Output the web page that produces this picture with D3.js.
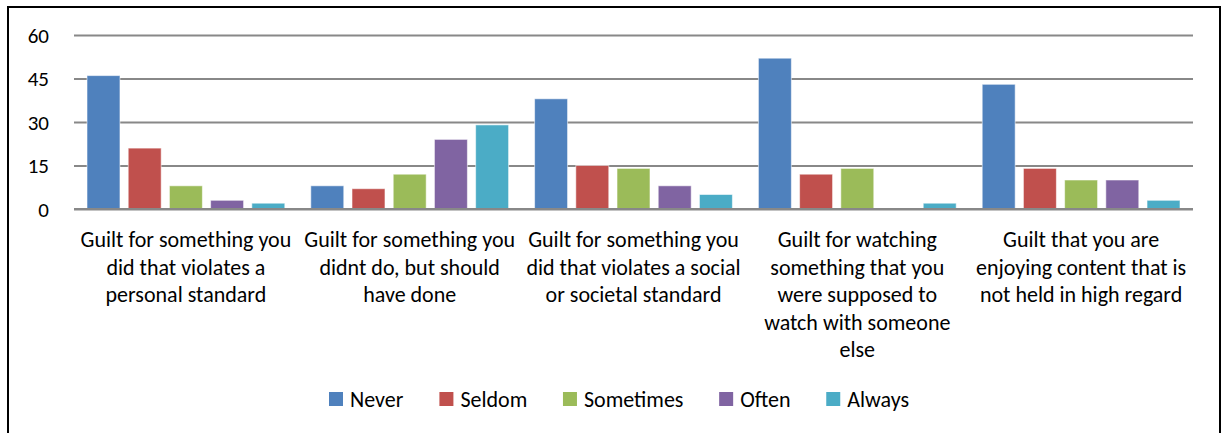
<!DOCTYPE html>
<html>
<head>
<meta charset="utf-8">
<script src="https://cdn.jsdelivr.net/npm/d3@7"></script>
<style>
  html, body { margin: 0; padding: 0; background: #fff; }
  svg { display: block; }
  text { font-family: Carlito, Calibri, Lato, "Liberation Sans", sans-serif; fill: #000; }
</style>
</head>
<body>
<svg id="chart" width="1222" height="433"></svg>
<script>
const categories = [
  "Guilt for something you\ndid that violates a\npersonal standard",
  "Guilt for something you\ndidnt do, but should\nhave done",
  "Guilt for something you\ndid that violates a social\nor societal standard",
  "Guilt for watching\nsomething that you\nwere supposed to\nwatch with someone\nelse",
  "Guilt that you are\nenjoying content that is\nnot held in high regard"
];
const seriesNames = ["Never", "Seldom", "Sometimes", "Often", "Always"];
const never     = [46, 8, 38, 52, 43];
const seldom    = [21, 7, 15, 12, 14];
const sometimes = [8, 12, 14, 14, 10];
const often     = [3, 24, 8, 0, 10];
const always    = [2, 29, 5, 2, 3];
const seriesColors = ["#4F81BD", "#C0504D", "#9BBB59", "#8064A2", "#4BACC6"];
const yTicks = [0, 15, 30, 45, 60];

const seriesValues = [never, seldom, sometimes, often, always];

const svg = d3.select("#chart");

// outer frame
svg.append("rect")
  .attr("x", 8).attr("y", 7)
  .attr("width", 1212).attr("height", 440)
  .attr("fill", "none").attr("stroke", "#000").attr("stroke-width", 2);

const plot = { left: 74, right: 1193, top: 35, bottom: 209 };

const x0 = d3.scaleBand().domain(d3.range(categories.length))
  .range([plot.left, plot.right]).paddingInner(0).paddingOuter(0);
const gw = x0.bandwidth();
const x1 = d3.scaleBand().domain(d3.range(seriesNames.length))
  .range([13, gw - 13]).paddingInner(0.2).paddingOuter(0);
const y = d3.scaleLinear().domain([0, 60]).range([plot.bottom, plot.top]);

// gridlines (axis lines only)
const yAxis = d3.axisLeft(y).tickValues(yTicks).tickSize(-(plot.right - plot.left)).tickFormat("");
const gy = svg.append("g").attr("transform", `translate(${plot.left},0)`).call(yAxis);
gy.select(".domain").remove();
gy.selectAll(".tick line").attr("stroke", "#888888").attr("stroke-width", 2.2);
gy.selectAll(".tick text").remove();

// y tick labels
svg.append("g").selectAll("text")
  .data(yTicks).join("text")
  .attr("x", plot.left - 25)
  .attr("y", d => y(d))
  .attr("dy", "0.36em")
  .attr("text-anchor", "end")
  .style("font-size", "21px")
  .text(d => d);

// bars
const groups = svg.append("g").selectAll("g")
  .data(categories).join("g")
  .attr("transform", (d, i) => `translate(${x0(i)},0)`);

groups.selectAll("rect")
  .data((d, i) => seriesValues.map((vals, s) => ({ s, v: vals[i] })))
  .join("rect")
  .attr("x", d => x1(d.s))
  .attr("width", x1.bandwidth())
  .attr("y", d => y(d.v))
  .attr("height", d => y(0) - y(d.v))
  .attr("fill", d => seriesColors[d.s])
  .attr("stroke", d => d.v > 0 ? "rgba(255,255,255,0.55)" : "none")
  .attr("stroke-width", 1);

// baseline on top
svg.append("line")
  .attr("x1", plot.left).attr("x2", plot.right)
  .attr("y1", y(0)).attr("y2", y(0))
  .attr("stroke", "#888888").attr("stroke-width", 2.2);

// category labels
const lab = svg.append("g").selectAll("text")
  .data(categories).join("text")
  .attr("text-anchor", "middle")
  .style("font-size", "22px")
  .attr("x", (d, i) => x0(i) + gw / 2)
  .attr("y", 247);
lab.each(function(d) {
  const t = d3.select(this);
  d.split("\n").forEach((line, k) => {
    t.append("tspan").attr("x", t.attr("x")).attr("dy", k === 0 ? 0 : 27.5).text(line);
  });
});

// legend
const leg = svg.append("g");
const items = leg.selectAll("g").data(seriesNames).join("g");
items.append("rect").attr("width", 14).attr("height", 14).attr("y", 392)
  .attr("fill", (d, i) => seriesColors[i]);
items.append("text").attr("x", 21).attr("y", 407).style("font-size", "22px").text(d => d);
const widths = [];
items.each(function() { widths.push(this.getBBox().width); });
const legLeft = 329, legRight = 909;
const gap = (legRight - legLeft - d3.sum(widths)) / (widths.length - 1);
let cx = legLeft;
const pos = widths.map(w => { const p = cx; cx += w + gap; return p; });
items.attr("transform", (d, i) => `translate(${pos[i]},0)`);
</script>
</body>
</html>
